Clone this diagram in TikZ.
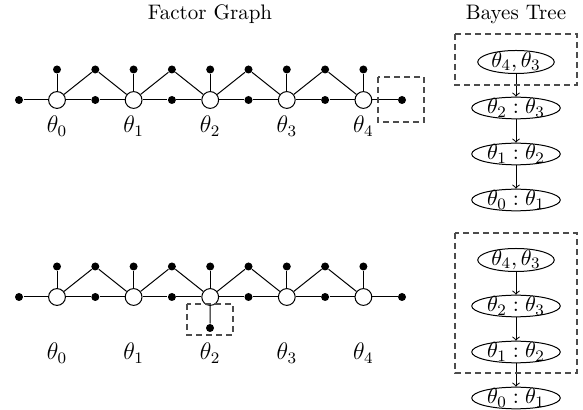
\documentclass[tikz,border=0pt]{standalone}
\usepackage{amsmath, amssymb}
\usepackage{tikz}
\usetikzlibrary{shapes.geometric}

\tikzset{
  var/.style={circle, draw, fill=white, minimum size=8.4pt, inner sep=0pt},
  fac/.style={circle, fill=black, minimum size=4pt, inner sep=0pt},
  clique/.style={ellipse, draw, inner xsep=1.2pt, inner ysep=-0.8pt,
    font=\fontsize{11}{13}\selectfont},
  dbox/.style={draw=black!70, line width=0.6pt, dash pattern=on 3pt off 2pt},
  title/.style={font=\fontsize{10.5}{12.6}\selectfont},
  lab/.style={font=\fontsize{11.5}{13}\selectfont}
}

\begin{document}
\begin{tikzpicture}[x=0.5pt, y=-0.5pt, >=to, line width=0.5pt]
  \useasboundingbox (0,0) rectangle (583,410);
  % titles
  \node[title] (fgtitle) at (210,14) {Factor Graph};
  \node[title] (bttitle) at (516,14) {Bayes Tree};
  % factor graphs (a: before, b: after)
  \foreach \r/\y/\ly in {a/100/126, b/297/353} {
    \foreach \i in {0,...,4} {
      \node[var] (\r t\i) at (57+76.6*\i,\y) {};
      \node[fac] (\r u\i) at (57+76.6*\i,\y-30.5) {};
      \node[lab] (\r l\i) at (57+76.6*\i,\ly) {$\theta_\i$};
      \draw (\r t\i) -- (\r u\i);
    }
    \foreach \i [evaluate=\i as \j using int(\i+1)] in {0,...,3} {
      \node[fac] (\r p\i) at (95.3+76.6*\i,\y-30.5) {};
      \node[fac] (\r m\i) at (95.3+76.6*\i,\y) {};
      \draw (\r t\i) -- (\r p\i) -- (\r t\j);
      \draw (\r t\i) -- (\r m\i) -- (\r t\j);
    }
    \node[fac] (\r L) at (19,\y) {};
    \node[fac] (\r R) at (402,\y) {};
    \draw (\r L) -- (\r t0);
    \draw (\r t4) -- (\r R);
  }
  % new factor on theta_2
  \node[fac] (bx) at (210,328) {};
  \draw (bt2) -- (bx);
  % affected parts
  \draw[dbox] (378,77) rectangle (424,122);
  \draw[dbox] (187,304) rectangle (233,335);
  % bayes trees
  \foreach \r/\y in {a/62, b/260} {
    \node[clique] (\r c0) at (516,\y) {$\theta_4,\theta_3$};
    \node[clique] (\r c1) at (516,\y+46) {$\theta_2:\theta_3$};
    \node[clique] (\r c2) at (516,\y+92) {$\theta_1:\theta_2$};
    \node[clique] (\r c3) at (516,\y+138) {$\theta_0:\theta_1$};
    \draw[->] (\r c0) -- (\r c1);
    \draw[->] (\r c1) -- (\r c2);
    \draw[->] (\r c2) -- (\r c3);
  }
  \draw[dbox] (455,34) rectangle (577,85);
  \draw[dbox] (455,233) rectangle (577,373);
\end{tikzpicture}
\end{document}
